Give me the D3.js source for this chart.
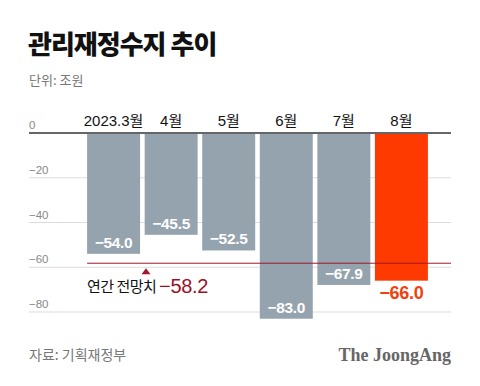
<!DOCTYPE html>
<html><head><meta charset="utf-8">
<script src="https://cdn.jsdelivr.net/npm/d3@7"></script>
<style>
html,body{margin:0;padding:0;background:#fff;}
svg{display:block;font-family:"Noto Sans CJK KR","Noto Sans",sans-serif;}
.num{font-family:"Liberation Sans","Noto Sans CJK KR",sans-serif;}
</style></head>
<body>
<svg id="c" width="480" height="386"></svg>
<script>
const months = ["2023.3월","4월","5월","6월","7월","8월"];
const values = [-54.0,-45.5,-52.5,-83.0,-67.9,-66.0];
const yTicks = [0,-20,-40,-60,-80];
const forecast = -58.2;
const forecastLabel = "연간 전망치";
const title = "관리재정수지 추이";
const unit = "단위: 조원";
const source = "자료: 기획재정부";
const brand = "The JoongAng";

const svg = d3.select("#c");
const x = d3.scaleBand().domain(months).range([84.8,430.2]).paddingInner(0.08).paddingOuter(0.04);
const y = d3.scaleLinear().domain([0,-80]).range([133,312]);
const fmt = d3.format(".1f");
const gray = "#95a3ae", red = "#ff3a00";

svg.append("text").attr("x",28).attr("y",54).attr("font-size",26).attr("font-weight",900).attr("fill","#111").attr("letter-spacing",-1).text(title);
svg.append("text").attr("x",29).attr("y",85).attr("font-size",13).attr("fill","#777").text(unit);

// grid
svg.selectAll("line.grid").data(yTicks.filter(d=>d!==0)).join("line")
  .attr("x1",29).attr("x2",451).attr("y1",d=>y(d)).attr("y2",d=>y(d))
  .attr("stroke","#dcdcdc").attr("stroke-width",1);
svg.selectAll("text.tick").data(yTicks).join("text").attr("class","num")
  .attr("x",29).attr("y",d=>y(d)-4).attr("font-size",11.5).attr("fill","#888")
  .text(d=>d===0?"0":d3.format("d")(d));

// bars
svg.selectAll("rect.bar").data(values).join("rect")
  .attr("x",(d,i)=>x(months[i])).attr("width",x.bandwidth())
  .attr("y",y(0)).attr("height",d=>y(d)-y(0))
  .attr("fill",(d,i)=>i===values.length-1?red:gray);

// zero line
svg.append("line").attr("x1",29).attr("x2",451).attr("y1",y(0)).attr("y2",y(0)).attr("stroke","#666").attr("stroke-width",2);

// month labels
svg.selectAll("text.m").data(months).join("text").attr("class","num")
  .attr("x",d=>x(d)+x.bandwidth()/2).attr("y",126).attr("text-anchor","middle")
  .attr("font-size",15).attr("fill","#111").text(d=>d);

// value labels
svg.selectAll("text.v").data(values).join("text").attr("class","num")
  .attr("x",(d,i)=>x(months[i])+x.bandwidth()/2)
  .attr("y",(d,i)=>i===values.length-1?y(d)+18:y(d)-6)
  .attr("text-anchor","middle")
  .attr("font-size",(d,i)=>i===values.length-1?18:15.5)
  .attr("font-weight",700)
  .attr("fill",(d,i)=>i===values.length-1?"#f0420c":"#fff")
  .attr("letter-spacing",-0.3)
  .text(d=>fmt(d));

// forecast line
svg.append("line").attr("x1",x(months[0])).attr("x2",451).attr("y1",y(forecast)).attr("y2",y(forecast))
  .attr("stroke","#a3182c").attr("stroke-width",1);
const tx = 146, ty = y(forecast)+5;
svg.append("path").attr("d",`M${tx},${ty} L${tx-4.5},${ty+6} L${tx+4.5},${ty+6}Z`).attr("fill","#a3182c");
svg.append("text").attr("x",87).attr("y",292).attr("font-size",15).attr("fill","#111").attr("letter-spacing",-0.5).text(forecastLabel);
svg.append("text").attr("class","num").attr("x",159).attr("y",293).attr("font-size",20).attr("fill","#9b1028").attr("letter-spacing",-0.3).text(fmt(forecast));

// footer
svg.append("text").attr("x",29).attr("y",360).attr("font-size",14).attr("fill","#777").text(source);
svg.append("text").attr("x",451).attr("y",361).attr("text-anchor","end").attr("font-family","'Liberation Serif','DejaVu Serif',serif")
  .attr("font-size",18).attr("font-weight",700).attr("fill","#666").text(brand);
</script>
</body></html>
